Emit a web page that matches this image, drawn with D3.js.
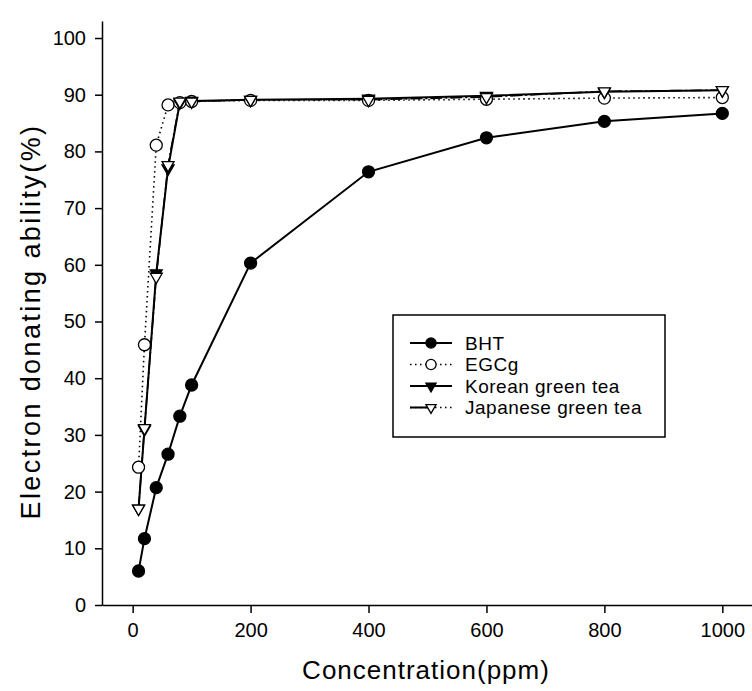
<!DOCTYPE html>
<html>
<head>
<meta charset="utf-8">
<script src="https://cdn.jsdelivr.net/npm/d3@7"></script>
<style>
  html, body { margin: 0; padding: 0; background: #fff; }
  svg { display: block; font-family: "Liberation Sans", Arial, sans-serif; }
  .axis text { font-size: 20px; fill: #000; }
  .axis path, .axis line { stroke: #000; stroke-width: 1.5; }
</style>
</head>
<body>
<div id="chart"></div>
<script>
// ── Data ───────────────────────────────────────────────────────────────
const concentrations = [10, 20, 40, 60, 80, 100, 200, 400, 600, 800, 1000];
const bht = [6.0, 11.7, 20.7, 26.6, 33.3, 38.8, 60.3, 76.4, 82.4, 85.3, 86.7];
const egcg = [24.3, 45.9, 81.1, 88.2, 88.6, 88.8, 89.0, 89.0, 89.2, 89.4, 89.5];
const korean = [17.0, 31.0, 58.5, 77.0, 88.6, 88.9, 89.1, 89.3, 89.8, 90.5, 90.8];
const japanese = [17.0, 31.2, 57.9, 77.6, 88.8, 88.8, 89.1, 89.1, 89.6, 90.6, 90.8];

const xTicks = [0, 200, 400, 600, 800, 1000];
const yTicks = [0, 10, 20, 30, 40, 50, 60, 70, 80, 90, 100];

const seriesLabels = ["BHT", "EGCg", "Korean green tea", "Japanese green tea"];

// ── Series setup ───────────────────────────────────────────────────────
const series = [
  { label: seriesLabels[0], values: bht, marker: "circle", filled: true, dash: null },
  { label: seriesLabels[1], values: egcg, marker: "circle", filled: false, dash: "1.5,3.5" },
  { label: seriesLabels[2], values: korean, marker: "triangle", filled: true, dash: null },
  { label: seriesLabels[3], values: japanese, marker: "triangle", filled: false, dash: "12,3,2,3" },
];

// ── SVG ────────────────────────────────────────────────────────────────
const W = 752, H = 691;
const svg = d3.select("#chart").append("svg").attr("width", W).attr("height", H);

// ── Scales ─────────────────────────────────────────────────────────────
const xScale = d3.scaleLinear().domain([-52, 1050]).range([102, 751.8]);
const yScale = d3.scaleLinear().domain([0, 103]).range([605, 21]);

// ── Axes ───────────────────────────────────────────────────────────────
svg.append("g")
  .attr("class", "axis axis-x")
  .attr("transform", `translate(0,${yScale(0)})`)
  .call(d3.axisBottom(xScale).tickValues(xTicks).tickFormat(d3.format("d"))
    .tickSize(8).tickSizeOuter(0).tickPadding(10))
  .call((g) => g.selectAll("text").attr("dy", "0.72em"));

svg.append("g")
  .attr("class", "axis axis-y")
  .attr("transform", `translate(${xScale(-52)},0)`)
  .call(d3.axisLeft(yScale).tickValues(yTicks).tickSize(7).tickSizeOuter(0).tickPadding(9));

// ── Axis labels ────────────────────────────────────────────────────────
svg.append("text")
  .attr("x", 426)
  .attr("y", 679)
  .attr("text-anchor", "middle")
  .style("font-size", "26px")
  .style("letter-spacing", "1px")
  .text("Concentration(ppm)");

svg.append("text")
  .attr("transform", `translate(31,${(yScale(0) + yScale(100)) / 2}) rotate(-90)`)
  .attr("text-anchor", "middle")
  .attr("dy", "0.35em")
  .style("font-size", "27px")
  .style("letter-spacing", "2.4px")
  .text("Electron donating ability(%)");

// ── Markers ────────────────────────────────────────────────────────────
function drawMarker(sel, s, scale = 1) {
  if (s.marker === "circle") {
    sel.append("circle")
      .attr("r", 6 * scale)
      .attr("fill", s.filled ? "#000" : "#fff")
      .attr("stroke", "#000")
      .attr("stroke-width", 1.3);
  } else {
    sel.append("path")
      .attr("d", d3.symbol().type(d3.symbolTriangle).size(62 * scale * scale)())
      .attr("transform", "rotate(180)")
      .attr("fill", s.filled ? "#000" : "#fff")
      .attr("stroke", "#000")
      .attr("stroke-width", 1.3);
  }
}

// ── Draw lines ─────────────────────────────────────────────────────────
const lineGen = d3.line()
  .x((d) => xScale(d.x))
  .y((d) => yScale(d.y));

series.forEach((s) => {
  const pts = concentrations.map((c, i) => ({ x: c, y: s.values[i] }));
  svg.append("path")
    .datum(pts)
    .attr("fill", "none")
    .attr("stroke", "#000")
    .attr("stroke-width", s.dash ? 1.6 : 2)
    .attr("stroke-dasharray", s.dash)
    .attr("d", lineGen);
});

series.forEach((s) => {
  concentrations.forEach((c, i) => {
    const g = svg.append("g")
      .attr("transform", `translate(${xScale(c)},${yScale(s.values[i])})`);
    drawMarker(g, s);
  });
});

// ── Legend ─────────────────────────────────────────────────────────────
const legend = svg.append("g").attr("transform", "translate(393,315)");

legend.append("rect")
  .attr("width", 272)
  .attr("height", 122)
  .attr("fill", "#fff")
  .attr("stroke", "#000")
  .attr("stroke-width", 1.5);

series.forEach((s, i) => {
  const row = legend.append("g").attr("transform", `translate(0,${28 + i * 21.5})`);
  row.append("line")
    .attr("x1", 17)
    .attr("x2", 59)
    .attr("stroke", "#000")
    .attr("stroke-width", s.dash ? 1.3 : 2)
    .attr("stroke-dasharray", s.dash ? "1.5,3.5" : null);
  if (s.marker === "triangle" && s.dash) {
    // solid lead-in then dots, as in the key
    row.append("line")
      .attr("x1", 17).attr("x2", 36)
      .attr("stroke", "#000").attr("stroke-width", 2);
  }
  const m = row.append("g").attr("transform", "translate(38,0)");
  drawMarker(m, s, 0.85);
  row.append("text")
    .attr("x", 72)
    .attr("y", 0)
    .attr("dy", "0.35em")
    .style("font-size", "19px")
    .style("letter-spacing", "0.5px")
    .text(s.label);
});
</script>
</body>
</html>
